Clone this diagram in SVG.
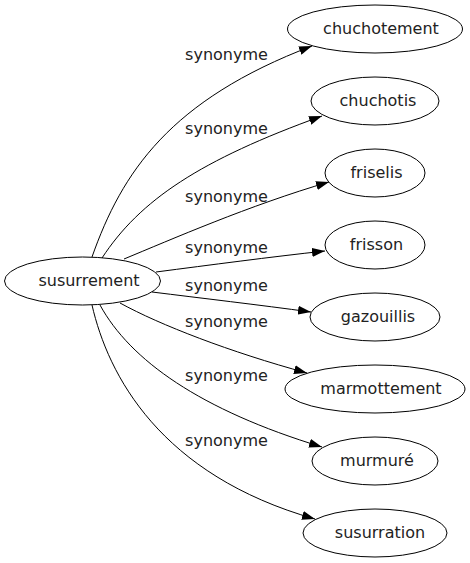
<svg xmlns="http://www.w3.org/2000/svg" width="470" height="563" viewBox="0 0 470 563">
<style>
.node ellipse{fill:none;stroke:#000;stroke-width:1}
.node text{font-family:"DejaVu Sans",sans-serif;font-size:16px;fill:#222;text-anchor:middle}
.edge path{fill:none;stroke:#000;stroke-width:1;marker-end:url(#arr)}
.lbl{font-family:"DejaVu Sans",sans-serif;font-size:16px;fill:#222;text-anchor:middle}
</style>
<defs>
<marker id="arr" markerUnits="userSpaceOnUse" markerWidth="13" markerHeight="9" refX="13" refY="4.5" orient="auto">
<path d="M0,0 L13,4.5 L0,9 z" fill="#000"/>
</marker>
</defs>
<rect width="470" height="563" fill="#fff"/>
<g id="edges" class="edge">
<path d="M92,257 C122,172 170,100 312,46"/>
<path d="M102,258 C140,200 200,160 322,116"/>
<path d="M124,259 C170,240 250,205 329,182"/>
<path d="M156,272 C210,265 270,257 325,251"/>
<path d="M152,292 C200,298 260,305 311,312"/>
<path d="M120,303 C160,325 230,352 307,373"/>
<path d="M100,305 C130,360 200,410 322,447"/>
<path d="M92,305 C108,375 160,475 315,519"/>
<text class="lbl" x="226.5" y="60">synonyme</text>
<text class="lbl" x="226.5" y="134">synonyme</text>
<text class="lbl" x="226.5" y="202">synonyme</text>
<text class="lbl" x="226.5" y="253">synonyme</text>
<text class="lbl" x="226.5" y="291">synonyme</text>
<text class="lbl" x="226.5" y="327">synonyme</text>
<text class="lbl" x="226.5" y="381">synonyme</text>
<text class="lbl" x="226.5" y="446">synonyme</text>
</g>
<g id="susurrement" class="node"><ellipse cx="82.5" cy="281" rx="78" ry="24"/><text x="89" y="286">susurrement</text></g>
<g id="chuchotement" class="node"><ellipse cx="375" cy="29" rx="87.5" ry="24"/><text x="381" y="34">chuchotement</text></g>
<g id="chuchotis" class="node"><ellipse cx="375" cy="101" rx="64" ry="24"/><text x="378" y="106">chuchotis</text></g>
<g id="friselis" class="node"><ellipse cx="375" cy="173" rx="50" ry="24"/><text x="376.5" y="178">friselis</text></g>
<g id="frisson" class="node"><ellipse cx="375" cy="245" rx="50" ry="24"/><text x="376.5" y="250">frisson</text></g>
<g id="gazouillis" class="node"><ellipse cx="375" cy="317" rx="65" ry="24"/><text x="378" y="322">gazouillis</text></g>
<g id="marmottement" class="node"><ellipse cx="375" cy="389" rx="90" ry="24"/><text x="381" y="394">marmottement</text></g>
<g id="murmure" class="node"><ellipse cx="375" cy="461" rx="63" ry="24"/><text x="377" y="466">murmuré</text></g>
<g id="susurration" class="node"><ellipse cx="375" cy="533" rx="72" ry="24"/><text x="380" y="538">susurration</text></g>
</svg>
